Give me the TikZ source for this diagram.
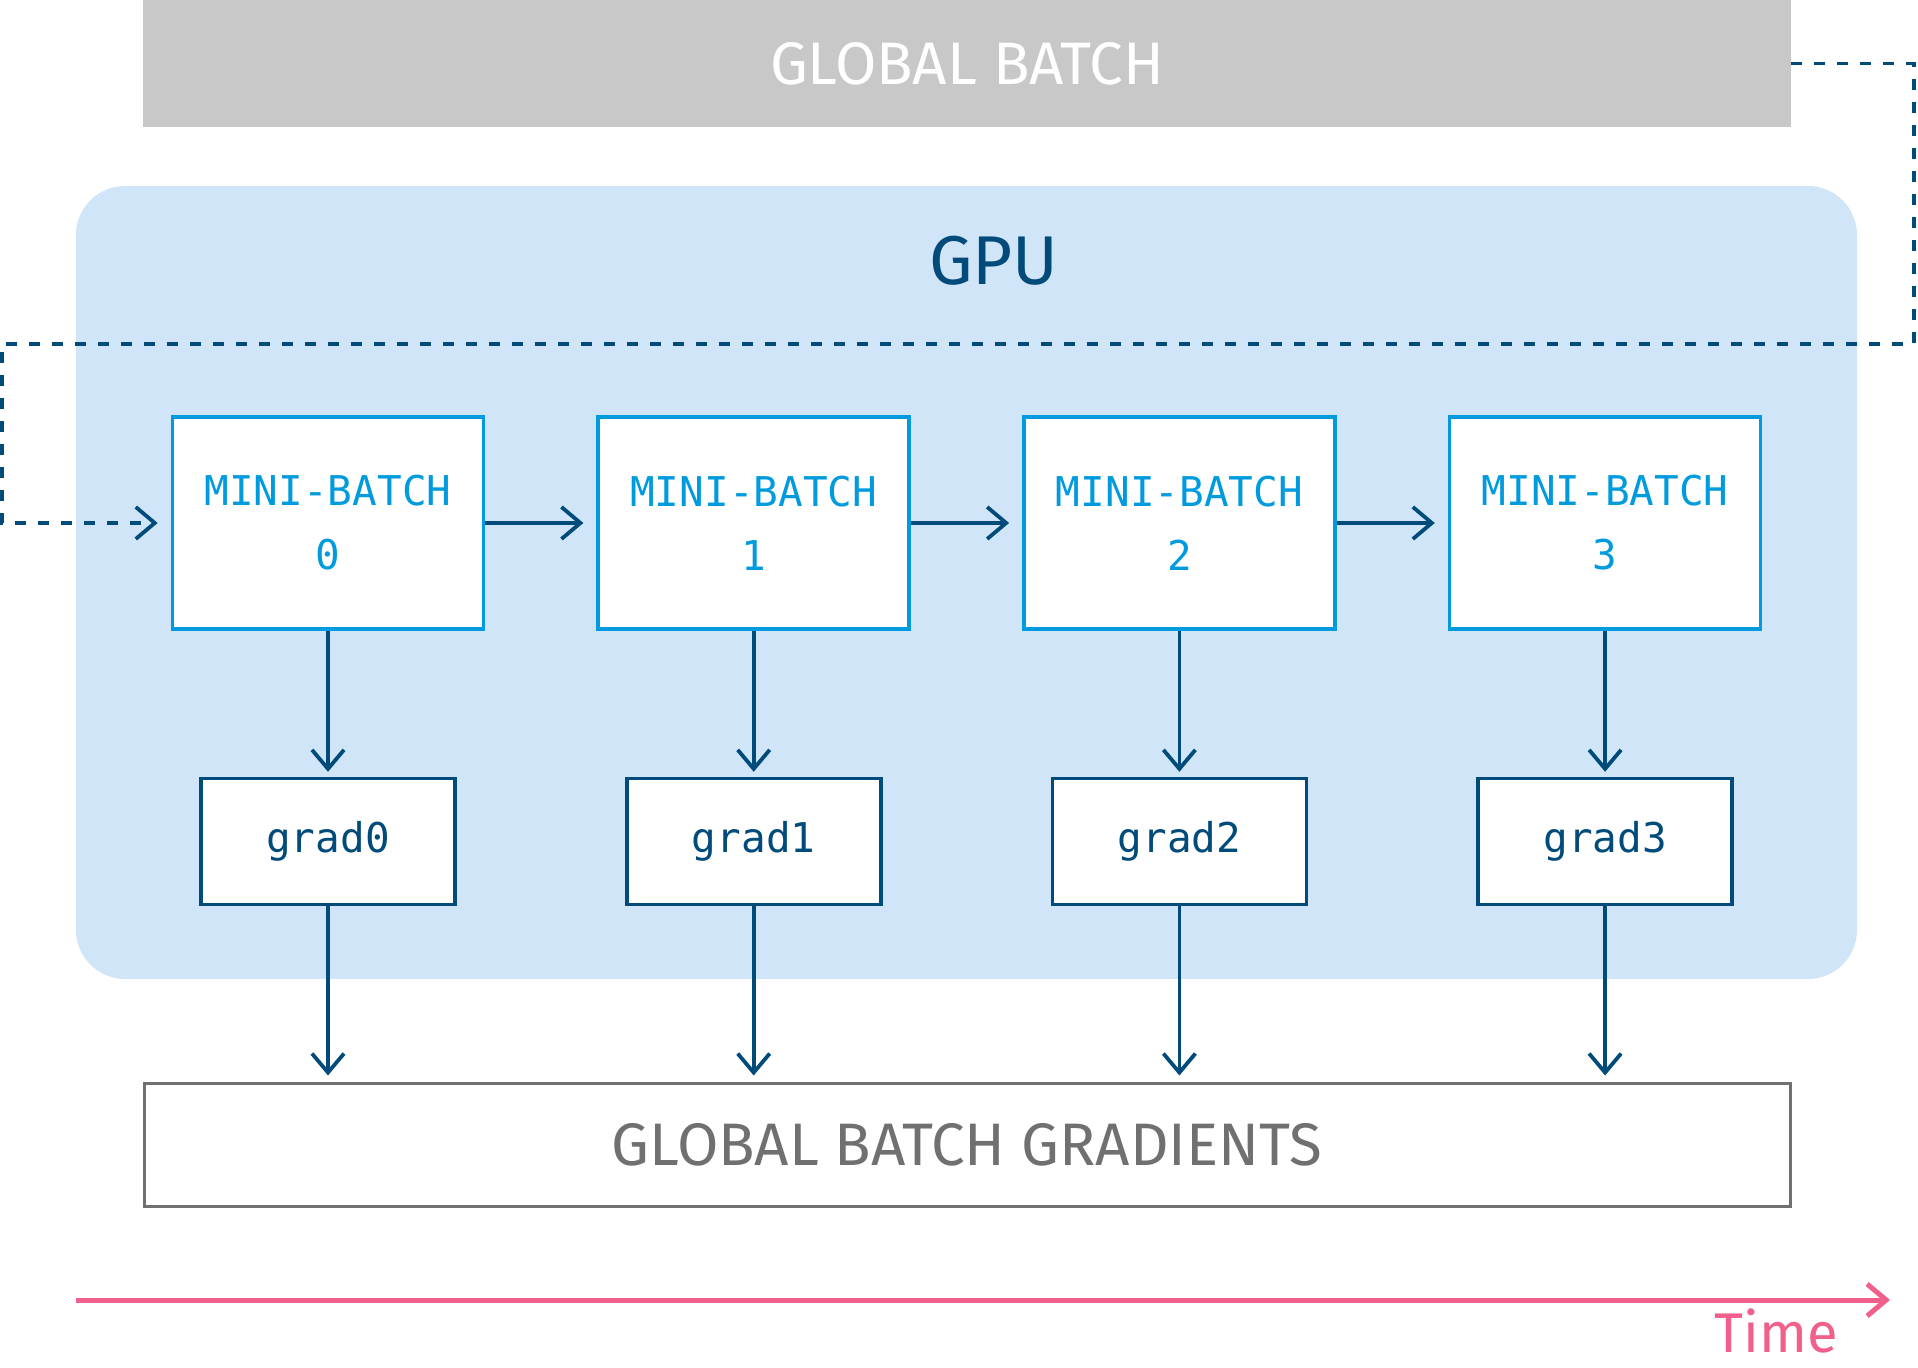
\documentclass[tikz,border=0pt]{standalone}
\usepackage{fontspec}
\setmainfont{Fira Sans}
\setmonofont{DejaVu Sans Mono}
\usetikzlibrary{positioning,arrows.meta}
\definecolor{batchgray}{HTML}{C8C8C8}
\definecolor{gpufill}{HTML}{D0E6F8}
\definecolor{minicyan}{HTML}{009BDE}
\definecolor{deepblue}{HTML}{004B7A}
\definecolor{gradgray}{HTML}{707070}
\definecolor{timepink}{HTML}{F0608A}

\begin{document}
\begin{tikzpicture}[x=0.5pt,y=-0.5pt,line join=miter,
  barb/.style={-{Straight Barb[length=9.5pt,width=16pt]}},
  flow/.style={barb,draw=deepblue,line width=1.9pt},
  mbbox/.style={draw=minicyan,fill=white,line width=1.8pt,minimum width=155.5pt,minimum height=106pt,
    align=center,text=minicyan,font=\ttfamily\fontsize{20.5pt}{32pt}\selectfont},
  gradbox/.style={draw=deepblue,fill=white,line width=1.8pt,minimum width=127pt,minimum height=63pt,
    text=deepblue,font=\ttfamily\fontsize{20.5pt}{24pt}\selectfont}]
  \useasboundingbox (0,0) rectangle (1918,1368);
  \node[fill=batchgray,minimum width=824pt,minimum height=63.5pt,inner sep=0pt,text=white,
    font=\fontsize{30pt}{36pt}\selectfont] (global) at (967,63.5) {GLOBAL BATCH};
  \fill[gpufill,rounded corners=24.5pt] (76,186) rectangle (1857,979);
  \node[text=deepblue,font=\fontsize{34.5pt}{40pt}\selectfont] (gpu) at (994,261) {GPU};
  \foreach \i in {0,...,3} {
    \node[mbbox] (mb\i) at ({328+425.7*\i},523) {MINI-BATCH\\\i};
    \node[gradbox,below=73pt of mb\i] (grad\i) {grad\i};
  }
  \node[draw=gradgray,line width=1.5pt,minimum width=823pt,minimum height=61.5pt,text=gradgray,
    font=\fontsize{30pt}{36pt}\selectfont] (grads) at (967,1144.5) {GLOBAL BATCH GRADIENTS};
  \coordinate (turnR) at (1914,344);
  \coordinate (turnL) at (2,344);
  \draw[flow,dash pattern=on 5.5pt off 6pt,shorten >=6.5pt] (global.east) -| (turnR) -- (turnL) |- (mb0);
  \foreach \i/\j in {0/1,1/2,2/3}
    \draw[flow,shorten >=6.5pt] (mb\i) -- (mb\j);
  \foreach \i in {0,...,3} {
    \draw[flow,shorten >=2.5pt] (mb\i) -- (grad\i);
    \draw[flow,shorten >=3pt] (grad\i.south) -- (grad\i.south |- grads.north);
  }
  \coordinate (tstart) at (76,1300);
  \coordinate (tend) at (1890,1300);
  \draw[barb,draw=timepink,line width=2.5pt] (tstart) -- (tend);
  \node[anchor=base east,inner sep=0pt,text=timepink,font=\fontsize{28pt}{32pt}\selectfont]
    (timelabel) at (1838,1352) {Time};
\end{tikzpicture}
\end{document}
